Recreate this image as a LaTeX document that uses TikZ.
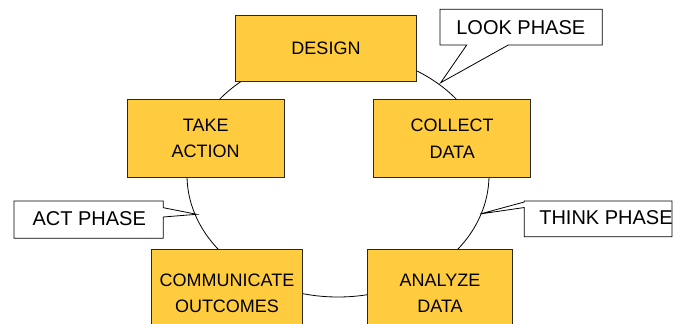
\documentclass[tikz,border=0pt]{standalone}
\usepackage{fontspec}
\setmainfont{Liberation Sans}
\definecolor{boxyellow}{RGB}{255,204,64}
\definecolor{edgegray}{RGB}{40,40,40}
\begin{document}
\begin{tikzpicture}[x=1pt,y=-1pt,
  phasebox/.style={draw=edgegray, fill=boxyellow, line width=0.8pt, inner sep=0pt,
     align=center, font=\fontsize{18}{26.7}\selectfont},
  callout/.style={draw=black, fill=white, line width=0.8pt, line join=miter},
  callouttext/.style={inner sep=0pt, font=\fontsize{20}{24}\selectfont},
  cycleline/.style={draw=black, line width=0.8pt}]
\useasboundingbox (0,0) rectangle (675,324);
\clip (0,0) rectangle (675,324);

% the cycle
\coordinate (cyc) at (338,175);
\draw[cycleline] (cyc) ellipse [x radius=151pt, y radius=122pt];

% boxes
\node[phasebox, minimum width=180.6pt, minimum height=66pt] (design) at (326,48) {DESIGN};
\node[phasebox, minimum width=156.7pt, minimum height=78pt] (take) at (205.7,138.3) {TAKE\\ACTION};
\node[phasebox, minimum width=157pt, minimum height=78pt] (collect) at (452.2,138.5) {COLLECT\\DATA};
\node[phasebox, minimum width=150.6pt, minimum height=87.7pt] (comm) at (227,293.2) {COMMUNICATE\\OUTCOMES};
\node[phasebox, minimum width=144.6pt, minimum height=87.7pt] (analyze) at (440,293.2) {ANALYZE\\DATA};

% LOOK PHASE callout
\coordinate (looktip) at (440.7,82.7);
\draw[callout] (440,9.3) -- (602.3,9.3) -- (602.3,45) -- (508.3,45) -- (looktip)
   -- (466.7,45) -- (440,45) -- cycle;
\node[callouttext] (look) at (520.8,27.2) {LOOK PHASE};

% ACT PHASE callout
\coordinate (acttip) at (196.7,214.3);
\draw[callout] (14,201) -- (163.3,201) -- (163.3,207.7) -- (acttip) -- (163.3,217)
   -- (163.3,238.3) -- (14,238.3) -- cycle;
\node[callouttext] (act) at (89.2,218.8) {ACT PHASE};

% THINK PHASE callout
\coordinate (thinktip) at (480,214);
\draw[callout] (524.3,201) -- (672,201) -- (672,236.7) -- (524.3,236.7)
   -- (524.3,207.5) -- (thinktip) -- (524.3,202) -- cycle;
\node[callouttext] (think) at (606,217.8) {THINK PHASE};
\end{tikzpicture}
\end{document}
